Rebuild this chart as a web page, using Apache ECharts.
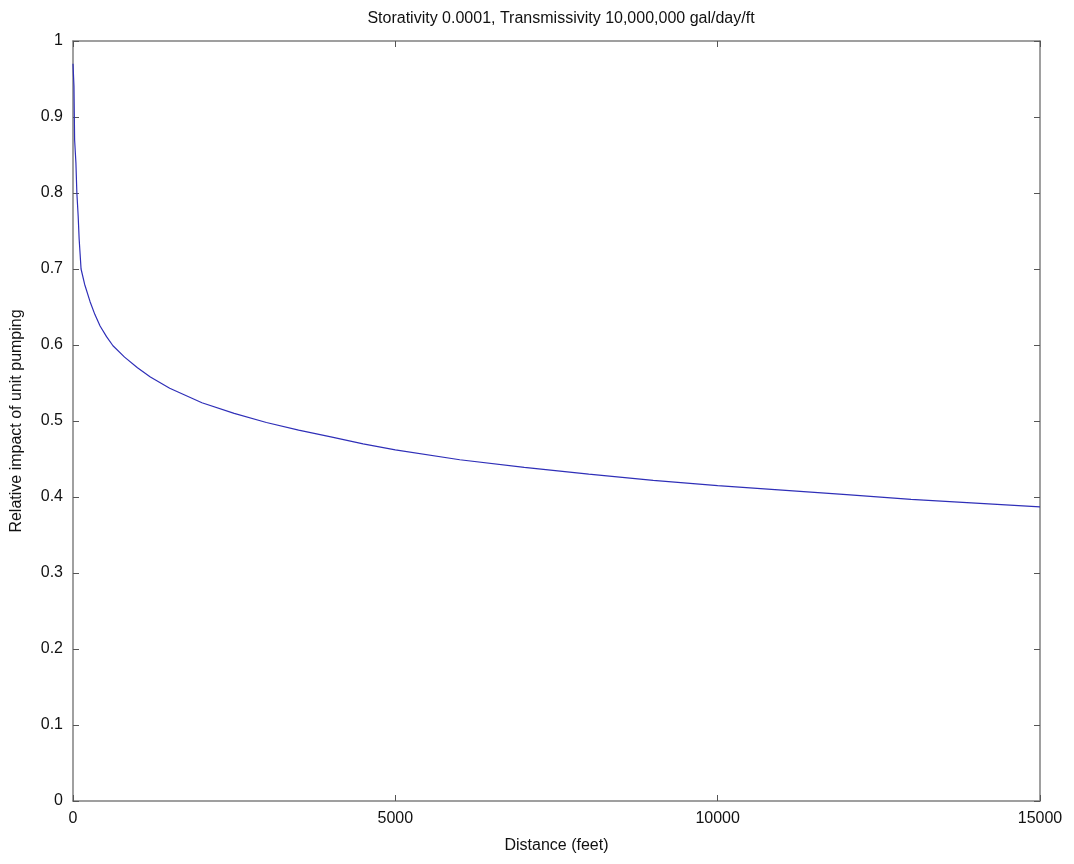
<!DOCTYPE html>
<html>
<head>
<meta charset="utf-8">
<script src="https://cdn.jsdelivr.net/npm/echarts@6/dist/echarts.min.js"></script>
<style>html,body{margin:0;padding:0;background:#fff}#c{width:1074px;height:864px}</style>
</head>
<body>
<div id="c"></div>
<script>
const titleText = 'Storativity 0.0001, Transmissivity 10,000,000 gal/day/ft';
const xName = 'Distance (feet)';
const yName = 'Relative impact of unit pumping';
const distance = [0, 15, 25, 45, 60, 80, 95, 110, 125, 180, 265, 340, 420, 520, 620, 800, 1000, 1200, 1500, 2000, 2500, 3000, 3500, 4000, 4500, 5000, 6000, 7000, 8000, 9000, 10000, 11000, 12000, 13000, 14000, 15000];
const impact   = [0.97, 0.94, 0.87, 0.84, 0.80, 0.77, 0.74, 0.72, 0.70, 0.68, 0.657, 0.64, 0.625, 0.611, 0.599, 0.584, 0.570, 0.558, 0.543, 0.524, 0.510, 0.498, 0.488, 0.479, 0.470, 0.462, 0.449, 0.439, 0.430, 0.422, 0.415, 0.409, 0.403, 0.397, 0.392, 0.387];

const data = distance.map((d, i) => [d, impact[i]]);
const font = 'Liberation Sans, Arial, sans-serif';
const axisGray = '#808080';
const chart = echarts.init(document.getElementById('c'));
const common = {
  axisLine: { show: true, onZero: false, lineStyle: { color: axisGray, width: 1.5 } },
  axisTick: { show: true, inside: true, length: 6, lineStyle: { color: '#555' } },
  splitLine: { show: false }
};
chart.setOption({
  animation: false,
  backgroundColor: '#fff',
  title: {
    text: titleText, left: 556, top: 6, textAlign: 'center',
    textStyle: { fontFamily: font, fontSize: 16, fontWeight: 'normal', color: '#111' }
  },
  grid: { left: 73, right: 34, top: 41, bottom: 63 },
  xAxis: [
    Object.assign({
      type: 'value', min: 0, max: 15000, interval: 5000, position: 'bottom',
      name: xName, nameLocation: 'middle', nameGap: 37,
      nameTextStyle: { fontFamily: font, fontSize: 16, color: '#111' },
      axisLabel: { fontFamily: font, fontSize: 16, color: '#111', margin: 10, formatter: v => String(v) }
    }, common),
    Object.assign({
      type: 'value', min: 0, max: 15000, interval: 5000, position: 'top',
      axisLabel: { show: false }
    }, common)
  ],
  yAxis: [
    Object.assign({
      type: 'value', min: 0, max: 1, interval: 0.1, position: 'left',
      name: yName, nameLocation: 'middle', nameGap: 48,
      nameTextStyle: { fontFamily: font, fontSize: 16, color: '#111' },
      axisLabel: { fontFamily: font, fontSize: 16, color: '#111', margin: 10 }
    }, common),
    Object.assign({
      type: 'value', min: 0, max: 1, interval: 0.1, position: 'right',
      axisLabel: { show: false }
    }, common)
  ],
  series: [{
    type: 'line', data: data, showSymbol: false, smooth: false,
    lineStyle: { color: '#2f2fb8', width: 1.2 }
  }]
});
</script>
</body>
</html>
